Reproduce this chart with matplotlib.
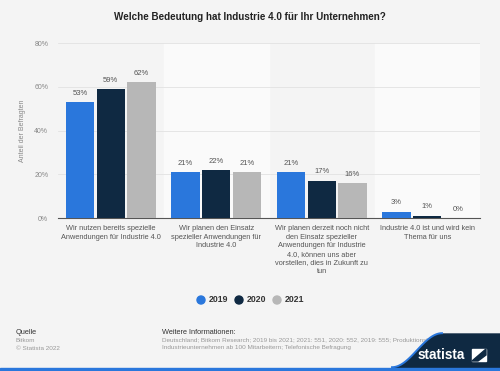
import numpy as np
import matplotlib.pyplot as plt
from matplotlib.patches import Polygon, Rectangle, Circle

categories = [
    "Wir nutzen bereits spezielle\nAnwendungen für Industrie 4.0",
    "Wir planen den Einsatz\nspezieller Anwendungen für\nIndustrie 4.0",
    "Wir planen derzeit noch nicht\nden Einsatz spezieller\nAnwendungen für Industrie\n4.0, können uns aber\nvorstellen, dies in Zukunft zu\ntun",
    "Industrie 4.0 ist und wird kein\nThema für uns",
]
years = ["2019", "2020", "2021"]
v2019 = [53, 21, 21, 3]
v2020 = [59, 22, 17, 1]
v2021 = [62, 21, 16, 0]
yticks = [0, 20, 40, 60, 80]

colors = ["#2a77dc", "#0f2942", "#b7b7b7"]
bg = "#f4f4f4"
plt.rcParams['font.family'] = ['Liberation Sans', 'DejaVu Sans']

fig = plt.figure(figsize=(5, 3.71), dpi=100)
fig.patch.set_facecolor(bg)
ax = fig.add_axes([0.116, 0.412, 0.844, 0.472])
ax.set_facecolor(bg)

x = np.arange(len(categories))
w = 0.27
for i in [1, 3]:
    ax.axvspan(i - 0.5, i + 0.5, color="#fafafa", zorder=0)

for k, vals in enumerate([v2019, v2020, v2021]):
    pos = x + (k - 1) * 0.29
    ax.bar(pos, vals, width=w, color=colors[k], zorder=3, label=years[k])
    for p, v in zip(pos, vals):
        ax.text(p, v + 2.5, f"{v}%", ha="center", va="bottom", fontsize=5.5, color="#555555")

ax.set_xlim(-0.5, 3.5)
ax.set_ylim(0, 80)
ax.set_yticks(yticks)
ax.set_yticklabels([f"{t}%" for t in yticks], fontsize=5, color="#888888")
ax.yaxis.grid(True, color="#e2e2e2", linewidth=0.6, zorder=1)
ax.tick_params(axis="y", length=0, pad=7)
ax.set_xticks(x)
ax.set_xticklabels(categories, fontsize=5.3, color="#555555", linespacing=1.3)
ax.tick_params(axis="x", length=0, pad=5)
for s in ["top", "right", "left"]:
    ax.spines[s].set_visible(False)
ax.spines["bottom"].set_color("#555555")
ax.spines["bottom"].set_linewidth(0.8)
ax.set_ylabel("Anteil der Befragten", fontsize=5, color="#888888", labelpad=6)

fig.text(0.5, 0.955, "Welche Bedeutung hat Industrie 4.0 für Ihr Unternehmen?",
         ha="center", va="center", fontsize=7.1, fontweight="bold", color="#222222")

# legend
lx = [0.402, 0.478, 0.554]
for k in range(3):
    fig.patches.append(Circle((lx[k] * 500, 371 - 300), 4, color=colors[k],
                              transform=None))
    fig.text(lx[k] + 0.016, 1 - 300 / 371, years[k], ha="left", va="center",
             fontsize=6.3, fontweight="bold", color="#333333")

# footer
fig.text(0.032, 1 - 332 / 371, "Quelle", fontsize=5.3, color="#333333", va="center")
fig.text(0.032, 1 - 340 / 371, "Bitkom", fontsize=4.6, color="#999999", va="center")
fig.text(0.032, 1 - 348 / 371, "© Statista 2022", fontsize=4.6, color="#999999", va="center")
fig.text(0.324, 1 - 332 / 371, "Weitere Informationen:", fontsize=5.3, color="#333333", va="center")
fig.text(0.324, 1 - 340 / 371,
         "Deutschland; Bitkom Research; 2019 bis 2021; 2021: 551, 2020: 552, 2019: 555; Produktionsbetriebe;",
         fontsize=4.6, color="#999999", va="center")
fig.text(0.324, 1 - 348 / 371,
         "Industrieunternehmen ab 100 Mitarbeitern; Telefonische Befragung",
         fontsize=4.6, color="#999999", va="center")

# statista logo wave
t = np.linspace(0, 1, 40)
cx = 392 + 50 * t
cy = 3 + 34 * (0.5 - 0.5 * np.cos(np.pi * t))
pts = np.column_stack([np.r_[cx, 500, 500], np.r_[cy, 37, 3]])
fig.patches.append(Polygon(pts, closed=True, color="#0f2942", transform=None, zorder=5))
fig.lines.append(plt.Line2D(cx, cy + 0.8, color="#2a77dc", linewidth=1.4,
                            transform=None, zorder=6))
fig.patches.append(Rectangle((0, 0), 500, 3.5, color="#2a77dc", transform=None, zorder=6))
fig.text(0.882, 1 - 355 / 371, "statista", fontsize=9.8, fontweight="bold",
         color="white", ha="center", va="center", zorder=7)
fig.patches.append(Polygon([[472, 10], [486, 10], [486, 22], [472, 22]], closed=True,
                           color="white", transform=None, zorder=7))
fig.patches.append(Polygon([[472, 10], [486, 22], [486, 16], [478, 10]], closed=True,
                           color="#0f2942", transform=None, zorder=8))

fig.savefig("out.png", dpi=100, facecolor=bg)
